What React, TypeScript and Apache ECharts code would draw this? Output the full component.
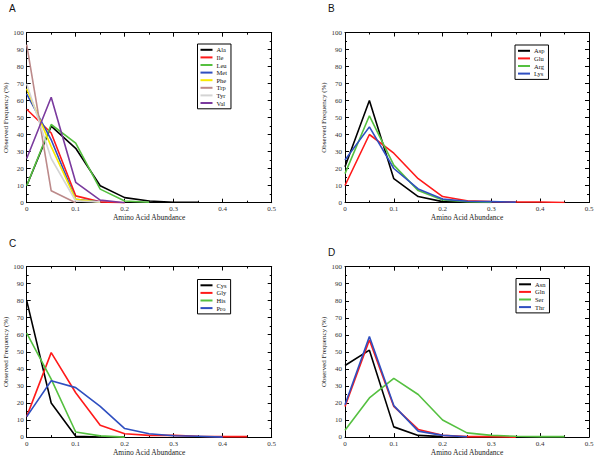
import React, { useEffect, useRef } from "react";
import * as echarts from "echarts";

// Shared abundance (x) positions
const abundance = [0, 0.05, 0.1, 0.15, 0.2, 0.25, 0.3, 0.35, 0.4, 0.45];

// Panel A
const ala = [10, 45, 32, 10, 3, 1, 0.3, 0.3];
const ile = [55, 41, 4, 0.5, 0];
const leu = [10, 46, 35, 8, 1, 0.3];
const met = [64, 37, 2, 0.5];
const phe = [67, 33, 2, 0.3];
const trp = [93, 7, 0];
const tyr = [70, 26, 1, 0.5];
const val = [26, 62, 12, 1.5, 0];

// Panel B
const asp = [21, 60, 14, 3.5, 0.5, 0.2, 0];
const glu = [10, 40, 29, 14, 3.5, 1, 0.5, 0.3, 0.3, 0];
const arg = [17, 51, 22, 7, 1.5, 0.5, 0.2];
const lys = [25, 44.5, 20, 8, 2, 0.7, 0.5, 0.2];

// Panel C
const cys = [80, 20, 0.5, 0, 0];
const gly = [12, 49.5, 26, 7, 2, 1, 1, 0.5, 0.3, 0.3];
const his = [61, 34, 3, 0.7, 0];
const pro = [12, 33, 29, 18, 5, 2, 0.8, 0.5, 0];

// Panel D
const asn = [42, 51, 6, 1, 0.3];
const gln = [18, 57, 18, 4.5, 1, 0.3, 0.3, 0];
const ser = [4, 23, 34.5, 25, 10, 2.5, 1, 0.5, 0.3, 0.3];
const thr = [19, 59, 18.5, 3.5, 1, 0.2];

// Tick labels
const panelLetters = ["A", "B", "C", "D"];
const xName = "Amino Acid Abundance";
const yName = "Observed Frequency (%)";

const COLORS = {
  black: "#000000",
  red: "#ff1a1a",
  green: "#55c040",
  blue: "#2f4fc0",
  yellow: "#f8ea00",
  brown: "#bc8a8a",
  gray: "#d4d4d4",
  purple: "#7a3a9e",
};

type S = { name: string; data: number[]; color: string };

const panels: S[][] = [
  [
    { name: "Ala", data: ala, color: COLORS.black },
    { name: "Ile", data: ile, color: COLORS.red },
    { name: "Leu", data: leu, color: COLORS.green },
    { name: "Met", data: met, color: COLORS.blue },
    { name: "Phe", data: phe, color: COLORS.yellow },
    { name: "Trp", data: trp, color: COLORS.brown },
    { name: "Tyr", data: tyr, color: COLORS.gray },
    { name: "Val", data: val, color: COLORS.purple },
  ],
  [
    { name: "Asp", data: asp, color: COLORS.black },
    { name: "Glu", data: glu, color: COLORS.red },
    { name: "Arg", data: arg, color: COLORS.green },
    { name: "Lys", data: lys, color: COLORS.blue },
  ],
  [
    { name: "Cys", data: cys, color: COLORS.black },
    { name: "Gly", data: gly, color: COLORS.red },
    { name: "His", data: his, color: COLORS.green },
    { name: "Pro", data: pro, color: COLORS.blue },
  ],
  [
    { name: "Asn", data: asn, color: COLORS.black },
    { name: "Gln", data: gln, color: COLORS.red },
    { name: "Ser", data: ser, color: COLORS.green },
    { name: "Thr", data: thr, color: COLORS.blue },
  ],
];

const grids = [
  { left: 26.7, top: 32.7, width: 245, height: 170 },
  { left: 345, top: 32.5, width: 244, height: 170 },
  { left: 26.7, top: 266.5, width: 245, height: 171 },
  { left: 345, top: 266.7, width: 244, height: 170.7 },
];

const legendPos = [
  { left: 197.5, top: 44 },
  { left: 515, top: 45 },
  { left: 197.5, top: 279.5 },
  { left: 516, top: 278.5 },
];

const letterPos = [
  { x: 9, y: 3 },
  { x: 328, y: 3 },
  { x: 9, y: 238 },
  { x: 328, y: 247 },
];

const SERIF = "'Liberation Serif', 'DejaVu Serif', serif";

export default function App() {
  const ref = useRef<HTMLDivElement>(null);
  useEffect(() => {
    if (!ref.current) return;
    const chart = echarts.init(ref.current, undefined, { renderer: "svg" });

    const xAxes: any[] = [];
    const yAxes: any[] = [];
    const series: any[] = [];
    const legends: any[] = [];

    const axisCommon = {
      axisLine: { show: true, onZero: false, lineStyle: { color: "#000", width: 1 } },
      axisTick: { show: true, inside: true, length: 4, lineStyle: { color: "#000" } },
      minorTick: { show: true, splitNumber: 2, length: 2, lineStyle: { color: "#000" } },
      splitLine: { show: false },
    };

    panels.forEach((ps, i) => {
      const xBase = {
        ...axisCommon,
        type: "value",
        gridIndex: i,
        min: 0,
        max: 0.5,
        interval: 0.1,
      };
      xAxes.push({
        ...xBase,
        position: "bottom",
        name: xName,
        nameLocation: "middle",
        nameGap: 9,
        nameTextStyle: { fontFamily: SERIF, fontSize: 7.5, color: "#222" },
        axisLabel: { show: true, fontFamily: SERIF, fontSize: 7, color: "#333", margin: 3 },
      });
      xAxes.push({ ...xBase, position: "top", axisLabel: { show: false } });
      const yBase = {
        ...axisCommon,
        type: "value",
        gridIndex: i,
        min: 0,
        max: 100,
        interval: 10,
      };
      yAxes.push({
        ...yBase,
        position: "left",
        name: yName,
        nameLocation: "middle",
        nameGap: 14,
        nameTextStyle: { fontFamily: SERIF, fontSize: 7, color: "#222" },
        axisLabel: { show: true, fontFamily: SERIF, fontSize: 7, color: "#333", margin: 3 },
      });
      yAxes.push({ ...yBase, position: "right", axisLabel: { show: false } });

      ps.forEach((s) => {
        series.push({
          type: "line",
          name: s.name,
          xAxisIndex: 2 * i,
          yAxisIndex: 2 * i,
          data: s.data.map((v, k) => [abundance[k], v]),
          showSymbol: false,
          symbol: "none",
          lineStyle: { color: s.color, width: 1.6 },
          itemStyle: { color: s.color },
        });
      });

      legends.push({
        data: ps.map((s) => s.name),
        orient: "vertical",
        left: legendPos[i].left,
        top: legendPos[i].top,
        icon: "rect",
        itemWidth: 12,
        itemHeight: 2,
        itemGap: 0,
        padding: [2, 4, 2, 3],
        borderColor: "#000",
        borderWidth: 1,
        backgroundColor: "#fff",
        selectedMode: false,
        textStyle: { fontFamily: SERIF, fontSize: 6.5, color: "#111", lineHeight: 7.6, padding: [0, 0, 0, -1] },
      });
    });

    chart.setOption({
      animation: false,
      backgroundColor: "#fff",
      grid: grids.map((g) => ({ ...g, containLabel: false })),
      xAxis: xAxes,
      yAxis: yAxes,
      legend: legends,
      series,
      graphic: panelLetters.map((t, i) => ({
        type: "text",
        x: letterPos[i].x,
        y: letterPos[i].y,
        style: {
          text: t,
          fontFamily: "'Liberation Sans', Arial, sans-serif",
          fontSize: 10,
          fill: "#111",
        },
      })),
    });

    return () => chart.dispose();
  }, []);

  return (
    <div
      ref={ref}
      style={{ position: "fixed", left: 0, top: 0, width: 600, height: 457 }}
    />
  );
}
